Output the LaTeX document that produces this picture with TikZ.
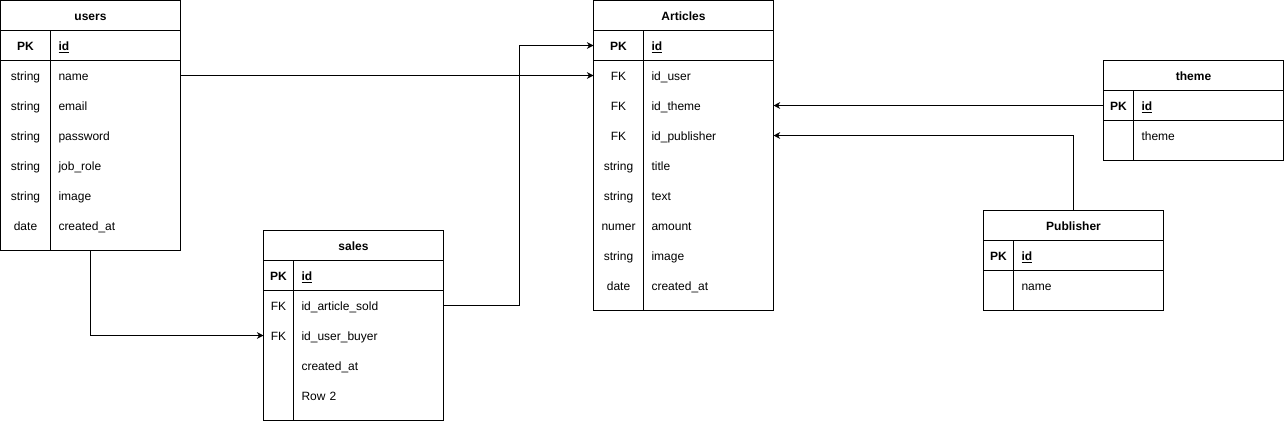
\documentclass[tikz,border=0pt]{standalone}
\usepackage{fontspec}
\setmainfont{Liberation Sans}[Scale=0.9]
\usetikzlibrary{arrows.meta}

\tikzset{
  ertab/.style={draw,line width=0.75pt,anchor=north west,minimum width=135pt,inner sep=0pt,outer sep=0pt},
  ertitle/.style={font=\bfseries,inner sep=0pt,text height=8.8pt,text depth=1pt},
  erkey/.style={minimum width=#1,minimum height=22.5pt,inner sep=0pt,outer sep=0pt,text height=8.8pt,text depth=1pt},
  erfield/.style={anchor=west,text width=#1,align=left,inner xsep=6pt,inner ysep=0pt,minimum height=22.5pt,outer sep=0pt,text height=8.8pt,text depth=1pt},
  erline/.style={line width=0.75pt},
  fk/.style={line width=0.75pt,-{Stealth[length=5pt,width=5pt]}},
}

\begin{document}
\begin{tikzpicture}[x=0.75pt,y=-0.75pt]
		\useasboundingbox (-0.5,-0.5) rectangle (1283.5,420.5);
		
		% users
		\node[ertab,minimum height=187.5pt] (users) at (0,0) {};
		\node[ertitle] (u-title) at (90,15) {users};
		\draw[erline] (0,30) -- (180,30) (0,60) -- (180,60) (50,30) -- (50,250);
		\node[erkey=37.5pt,font=\bfseries] (u-pk) at (25,45) {PK};
		\node[erfield=85.5pt,font=\bfseries] (u-id) at (50,45) {\underline{id}};
		\node[erkey=37.5pt] (u-k1) at (25,75) {string};
		\node[erfield=85.5pt] (u-name) at (50,75) {name};
		\node[erkey=37.5pt] (u-k2) at (25,105) {string};
		\node[erfield=85.5pt] (u-email) at (50,105) {email};
		\node[erkey=37.5pt] (u-k3) at (25,135) {string};
		\node[erfield=85.5pt] (u-pass) at (50,135) {password};
		\node[erkey=37.5pt] (u-k4) at (25,165) {string};
		\node[erfield=85.5pt] (u-role) at (50,165) {job\_role};
		\node[erkey=37.5pt] (u-k5) at (25,195) {string};
		\node[erfield=85.5pt] (u-image) at (50,195) {image};
		\node[erkey=37.5pt] (u-k6) at (25,225) {date};
		\node[erfield=85.5pt] (u-created) at (50,225) {created\_at};
		
		% Articles
		\node[ertab,minimum height=232.5pt] (articles) at (593,0) {};
		\node[ertitle] (a-title) at (683,15) {Articles};
		\draw[erline] (593,30) -- (773,30) (593,60) -- (773,60) (643,30) -- (643,310);
		\node[erkey=37.5pt,font=\bfseries] (a-pk) at (618,45) {PK};
		\node[erfield=85.5pt,font=\bfseries] (a-id) at (643,45) {\underline{id}};
		\node[erkey=37.5pt] (a-fk1) at (618,75) {FK};
		\node[erfield=85.5pt] (a-user) at (643,75) {id\_user};
		\node[erkey=37.5pt] (a-fk2) at (618,105) {FK};
		\node[erfield=85.5pt] (a-theme) at (643,105) {id\_theme};
		\node[erkey=37.5pt] (a-fk3) at (618,135) {FK};
		\node[erfield=85.5pt] (a-pub) at (643,135) {id\_publisher};
		\node[erkey=37.5pt] (a-k4) at (618,165) {string};
		\node[erfield=85.5pt] (a-titlef) at (643,165) {title};
		\node[erkey=37.5pt] (a-k5) at (618,195) {string};
		\node[erfield=85.5pt] (a-text) at (643,195) {text};
		\node[erkey=37.5pt] (a-k6) at (618,225) {numer};
		\node[erfield=85.5pt] (a-amount) at (643,225) {amount};
		\node[erkey=37.5pt] (a-k7) at (618,255) {string};
		\node[erfield=85.5pt] (a-image) at (643,255) {image};
		\node[erkey=37.5pt] (a-k8) at (618,285) {date};
		\node[erfield=85.5pt] (a-created) at (643,285) {created\_at};
		
		% sales
		\node[ertab,minimum height=142.5pt] (sales) at (263,230) {};
		\node[ertitle] (s-title) at (353,245) {sales};
		\draw[erline] (263,260) -- (443,260) (263,290) -- (443,290) (293,260) -- (293,420);
		\node[erkey=22.5pt,font=\bfseries] (s-pk) at (278,275) {PK};
		\node[erfield=100.5pt,font=\bfseries] (s-id) at (293,275) {\underline{id}};
		\node[erkey=22.5pt] (s-fk1) at (278,305) {FK};
		\node[erfield=100.5pt] (s-art) at (293,305) {id\_article\_sold};
		\node[erkey=22.5pt] (s-fk2) at (278,335) {FK};
		\node[erfield=100.5pt] (s-buy) at (293,335) {id\_user\_buyer};
		\node[erfield=100.5pt] (s-created) at (293,365) {created\_at};
		\node[erfield=100.5pt] (s-row) at (293,395) {Row 2};
		
		% theme
		\node[ertab,minimum height=75pt] (theme) at (1103,60) {};
		\node[ertitle] (t-title) at (1193,75) {theme};
		\draw[erline] (1103,90) -- (1283,90) (1103,120) -- (1283,120) (1133,90) -- (1133,160);
		\node[erkey=22.5pt,font=\bfseries] (t-pk) at (1118,105) {PK};
		\node[erfield=100.5pt,font=\bfseries] (t-id) at (1133,105) {\underline{id}};
		\node[erfield=100.5pt] (t-theme) at (1133,135) {theme};
		
		% Publisher
		\node[ertab,minimum height=75pt] (publisher) at (983,210) {};
		\node[ertitle] (p-title) at (1073,225) {Publisher};
		\draw[erline] (983,240) -- (1163,240) (983,270) -- (1163,270) (1013,240) -- (1013,310);
		\node[erkey=22.5pt,font=\bfseries] (p-pk) at (998,255) {PK};
		\node[erfield=100.5pt,font=\bfseries] (p-id) at (1013,255) {\underline{id}};
		\node[erfield=100.5pt] (p-name) at (1013,285) {name};
		
		% relations
		\draw[fk] (u-name.east) -- (a-fk1.west);
		\draw[fk] (s-art.east) -- ++(76,0) |- (a-pk.west);
		\draw[fk] (users.south) |- (s-fk2.west);
		\draw[fk] (t-pk.west) -- (a-theme.east);
		\draw[fk] (publisher.north) |- (a-pub.east);
	\end{tikzpicture}
\end{document}
